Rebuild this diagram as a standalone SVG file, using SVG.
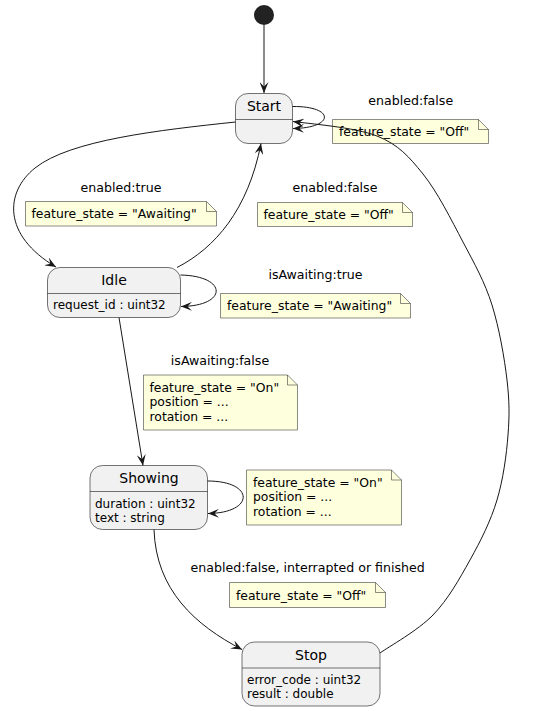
<svg xmlns="http://www.w3.org/2000/svg" width="543" height="711" viewBox="0 0 543 711">
<defs>
<marker id="arr" markerWidth="11" markerHeight="9" refX="11" refY="4.5" orient="auto" markerUnits="userSpaceOnUse">
<path d="M0,0 L11,4.5 L0,9 L4.5,4.5 Z" fill="#181818"/>
</marker>
<style>
text{font-family:"DejaVu Sans","Noto Sans",sans-serif;fill:#000}
.name{font-size:14px;text-anchor:middle}
.attr{font-size:12px}
.lbl{font-size:12.6px;text-anchor:middle}
.nt{font-size:12.4px}
.st{fill:#F1F1F1;stroke:#181818;stroke-width:0.6}
.div{stroke:#181818;stroke-width:0.6}
.note{fill:#FEFFDD;stroke:#181818;stroke-width:0.5}
.fold{fill:none;stroke:#181818;stroke-width:0.5}
.edge{fill:none;stroke:#181818;stroke-width:1;marker-end:url(#arr)}
</style>
</defs>
<rect width="543" height="711" fill="#fff"/>

<g id="labels">
<text class="lbl" x="410.7" y="105">enabled:false</text>
<text class="lbl" x="335" y="191.5">enabled:false</text>
<text class="lbl" x="121" y="191.5">enabled:true</text>
<text class="lbl" x="315.5" y="278.5">isAwaiting:true</text>
<text class="lbl" x="220" y="365">isAwaiting:false</text>
<text class="lbl" x="307.7" y="571.5">enabled:false, interrapted or finished</text>
</g>

<g id="initial">
<circle cx="264" cy="15" r="10" fill="#222"/>
</g>

<g id="Start">
<rect class="st" x="235.5" y="93.5" width="57" height="50" rx="12.5"/>
<line class="div" x1="235.5" y1="119.5" x2="292.5" y2="119.5"/>
<text class="name" x="264" y="110.5">Start</text>
</g>

<g id="Idle">
<rect class="st" x="47.5" y="267.5" width="133" height="50" rx="12.5"/>
<line class="div" x1="47.5" y1="293.5" x2="180.5" y2="293.5"/>
<text class="name" x="114" y="284.5">Idle</text>
<text class="attr" x="53" y="309">request_id : uint32</text>
</g>

<g id="Showing">
<rect class="st" x="90" y="465.5" width="117.5" height="64" rx="12.5"/>
<line class="div" x1="90" y1="491.5" x2="207.5" y2="491.5"/>
<text class="name" x="149" y="482.5">Showing</text>
<text class="attr" x="95" y="507.5">duration : uint32</text>
<text class="attr" x="95" y="521.5">text : string</text>
</g>

<g id="Stop">
<rect class="st" x="242" y="642" width="138" height="64" rx="12.5"/>
<line class="div" x1="242" y1="668" x2="380" y2="668"/>
<text class="name" x="311" y="659.5">Stop</text>
<text class="attr" x="247" y="683.5">error_code : uint32</text>
<text class="attr" x="247" y="697.5">result : double</text>
</g>

<g id="note1">
<path class="note" d="M332.5,119.5 L478.5,119.5 L488.5,129.5 L488.5,143.5 L332.5,143.5 Z"/>
<path class="fold" d="M478.5,119.5 L478.5,129.5 L488.5,129.5"/>
<text class="nt" x="339" y="136">feature_state = "Off"</text>
</g>

<g id="note2">
<path class="note" d="M257.5,202.5 L402.5,202.5 L412.5,212.5 L412.5,226.5 L257.5,226.5 Z"/>
<path class="fold" d="M402.5,202.5 L402.5,212.5 L412.5,212.5"/>
<text class="nt" x="263.5" y="219">feature_state = "Off"</text>
</g>

<g id="note3">
<path class="note" d="M25.5,201.5 L206.5,201.5 L216.5,211.5 L216.5,226 L25.5,226 Z"/>
<path class="fold" d="M206.5,201.5 L206.5,211.5 L216.5,211.5"/>
<text class="nt" x="31.5" y="218">feature_state = "Awaiting"</text>
</g>

<g id="note4">
<path class="note" d="M220.5,293.5 L400.5,293.5 L410.5,303.5 L410.5,318 L220.5,318 Z"/>
<path class="fold" d="M400.5,293.5 L400.5,303.5 L410.5,303.5"/>
<text class="nt" x="227" y="310">feature_state = "Awaiting"</text>
</g>

<g id="note5">
<path class="note" d="M143.5,375 L287.5,375 L297.5,385 L297.5,430 L143.5,430 Z"/>
<path class="fold" d="M287.5,375 L287.5,385 L297.5,385"/>
<text class="nt" x="149.5" y="391.5">feature_state = "On"</text>
<text class="nt" x="149.5" y="406">position = ...</text>
<text class="nt" x="149.5" y="420.5">rotation = ...</text>
</g>

<g id="note6">
<path class="note" d="M246.5,470 L391.5,470 L401.5,480 L401.5,525 L246.5,525 Z"/>
<path class="fold" d="M391.5,470 L391.5,480 L401.5,480"/>
<text class="nt" x="253" y="486.5">feature_state = "On"</text>
<text class="nt" x="253" y="501">position = ...</text>
<text class="nt" x="253" y="515.5">rotation = ...</text>
</g>

<g id="note7">
<path class="note" d="M229.5,582.5 L375.5,582.5 L385.5,592.5 L385.5,607.5 L229.5,607.5 Z"/>
<path class="fold" d="M375.5,582.5 L375.5,592.5 L385.5,592.5"/>
<text class="nt" x="236" y="599.5">feature_state = "Off"</text>
</g>

<g id="connectors">
<path class="edge" d="M264,25 L264,93"/>
<path class="edge" d="M292.5,106.5 C335,106 335,128 293,128.5"/>
<path class="edge" d="M235.5,122 C160,130 70,140 35,168 C5,192 2,235 56,267"/>
<path class="edge" d="M177,267.5 C215,248 248,210 261,143.5"/>
<path class="edge" d="M180.5,275 C228,276 228,306 181,306.5"/>
<path class="edge" d="M119,317.5 L143,465.5"/>
<path class="edge" d="M207.5,481 C255,481 255,513 208,513.5"/>
<path class="edge" d="M154,529.5 C156,590 195,625 242,649.5"/>
<path class="edge" d="M380,653 C388.8,646.7 418,630.5 433,615 C448,599.5 459.3,579.2 470,560 C480.7,540.8 490.8,520.8 497,500 C503.2,479.2 506.5,455 508,435 C509.5,415 509.5,401.7 507,380 C504.5,358.3 499.2,328 492,305 C484.8,282 474.5,263.8 463,242 C451.5,220.2 437.3,191.7 423,174 C408.7,156.3 398.7,144.8 377,136 C355.3,127.2 307,123.5 293,121.5"/>
</g>
</svg>
